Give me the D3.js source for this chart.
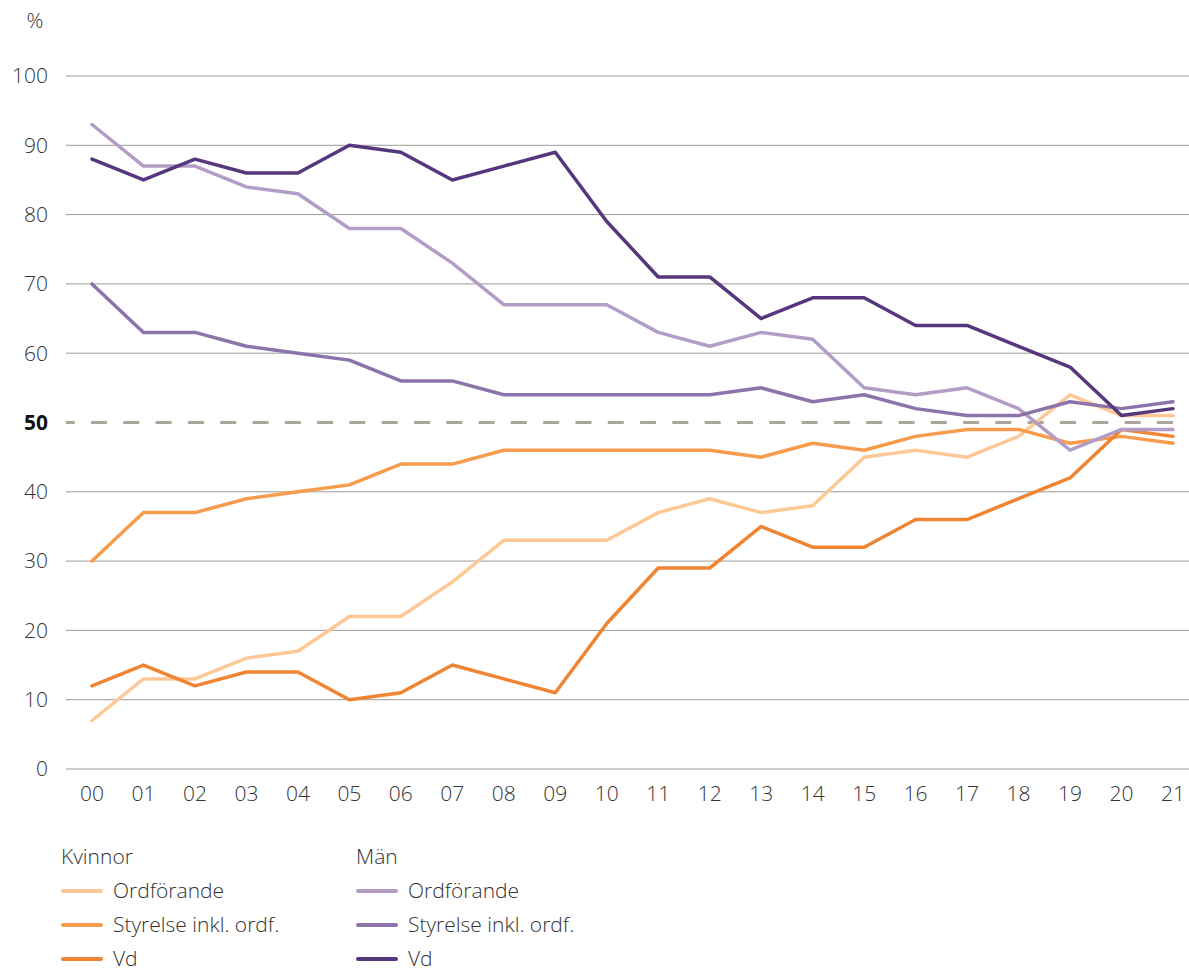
<!DOCTYPE html>
<html>
<head>
<meta charset="utf-8">
<script src="https://cdn.jsdelivr.net/npm/d3@7"></script>
<style>
  html, body { margin: 0; padding: 0; background: #fff; }
  svg { display: block; font-family: "Open Sans", "Noto Sans", sans-serif; }
</style>
</head>
<body>
<svg id="chart" width="1189" height="971"></svg>
<script>
// Years 2000–2021, shown as two-digit labels
const years = ["00","01","02","03","04","05","06","07","08","09","10","11","12","13","14","15","16","17","18","19","20","21"];
const yTicks = [0, 10, 20, 30, 40, 50, 60, 70, 80, 90, 100];

// Share of women (%)
const kvinnorOrdforande = [7,13,13,16,17,22,22,27,33,33,33,37,39,37,38,45,46,45,48,54,51,51];
const kvinnorStyrelse   = [30,37,37,39,40,41,44,44,46,46,46,46,46,45,47,46,48,49,49,47,48,47];
const kvinnorVd         = [12,15,12,14,14,10,11,15,13,11,21,29,29,35,32,32,36,36,39,42,49,48];

// Share of men (%)
const manOrdforande = [93,87,87,84,83,78,78,73,67,67,67,63,61,63,62,55,54,55,52,46,49,49];
const manStyrelse   = [70,63,63,61,60,59,56,56,54,54,54,54,54,55,53,54,52,51,51,53,52,53];
const manVd         = [88,85,88,86,86,90,89,85,87,89,79,71,71,65,68,68,64,64,61,58,51,52];

const series = [
  { name: "Ordförande", group: "Kvinnor", values: kvinnorOrdforande, color: "#fdc896" },
  { name: "Styrelse inkl. ordf.", group: "Kvinnor", values: kvinnorStyrelse, color: "#f69c4c" },
  { name: "Vd", group: "Kvinnor", values: kvinnorVd, color: "#ef8533" },
  { name: "Ordförande", group: "Män", values: manOrdforande, color: "#b39dc7" },
  { name: "Styrelse inkl. ordf.", group: "Män", values: manStyrelse, color: "#8c73aa" },
  { name: "Vd", group: "Män", values: manVd, color: "#56377d" }
];

const FS = 21;
const svg = d3.select("#chart");
const x = d3.scaleLinear().domain([0, years.length - 1]).range([92, 1173]);
const y = d3.scaleLinear().domain([0, 100]).range([769, 76]);
const gridLeft = 66, gridRight = 1189;

// horizontal gridlines
svg.append("g").selectAll("line")
  .data(yTicks.filter(d => d !== 50))
  .join("line")
  .attr("x1", gridLeft).attr("x2", gridRight)
  .attr("y1", d => y(d)).attr("y2", d => y(d))
  .attr("stroke", "#9a9a9a").attr("stroke-width", 1);

// 50 % reference line
svg.append("line")
  .attr("x1", gridLeft).attr("x2", gridRight)
  .attr("y1", y(50)).attr("y2", y(50))
  .attr("stroke", "#aaa69c").attr("stroke-width", 3)
  .attr("stroke-dasharray", "16,16.3")
  .attr("stroke-dashoffset", 7.3);

// y tick labels
svg.append("g").selectAll("text")
  .data(yTicks)
  .join("text")
  .attr("x", 48).attr("y", d => y(d))
  .attr("dy", "0.35em")
  .attr("text-anchor", "end")
  .attr("font-size", FS)
  .attr("font-weight", d => d === 50 ? 700 : 300)
  .attr("fill", d => d === 50 ? "#111" : "#333")
  .text(d => d);

svg.append("text")
  .attr("x", 35).attr("y", 21).attr("dy", "0.35em")
  .attr("text-anchor", "middle")
  .attr("font-size", FS).attr("font-weight", 300).attr("fill", "#333")
  .text("%");

// x tick labels
svg.append("g").selectAll("text")
  .data(years)
  .join("text")
  .attr("x", (d, i) => x(i)).attr("y", 794)
  .attr("dy", "0.35em")
  .attr("text-anchor", "middle")
  .attr("font-size", FS).attr("font-weight", 300).attr("fill", "#333")
  .text(d => d);

// series lines
const line = d3.line().x((d, i) => x(i)).y(d => y(d));
svg.append("g").selectAll("path")
  .data(series)
  .join("path")
  .attr("d", d => line(d.values))
  .attr("fill", "none")
  .attr("stroke", d => d.color)
  .attr("stroke-width", 3.5)
  .attr("stroke-linejoin", "round")
  .attr("stroke-linecap", "round");

// legend
const groups = ["Kvinnor", "Män"];
const legendX = [61, 356];
const legendY0 = 857, rowH = 34;
groups.forEach((g, gi) => {
  const lg = svg.append("g").attr("transform", `translate(${legendX[gi]},0)`);
  lg.append("text")
    .attr("x", 0).attr("y", legendY0).attr("dy", "0.35em")
    .attr("font-size", FS).attr("font-weight", 300).attr("fill", "#333")
    .text(g);
  series.filter(s => s.group === g).forEach((s, i) => {
    const yy = legendY0 + rowH * (i + 1);
    lg.append("line")
      .attr("x1", 2).attr("x2", 40).attr("y1", yy).attr("y2", yy)
      .attr("stroke", s.color).attr("stroke-width", 4)
      .attr("stroke-linecap", "round");
    lg.append("text")
      .attr("x", 52).attr("y", yy).attr("dy", "0.35em")
      .attr("font-size", FS).attr("font-weight", 300).attr("fill", "#333")
      .text(s.name);
  });
});
</script>
</body>
</html>
